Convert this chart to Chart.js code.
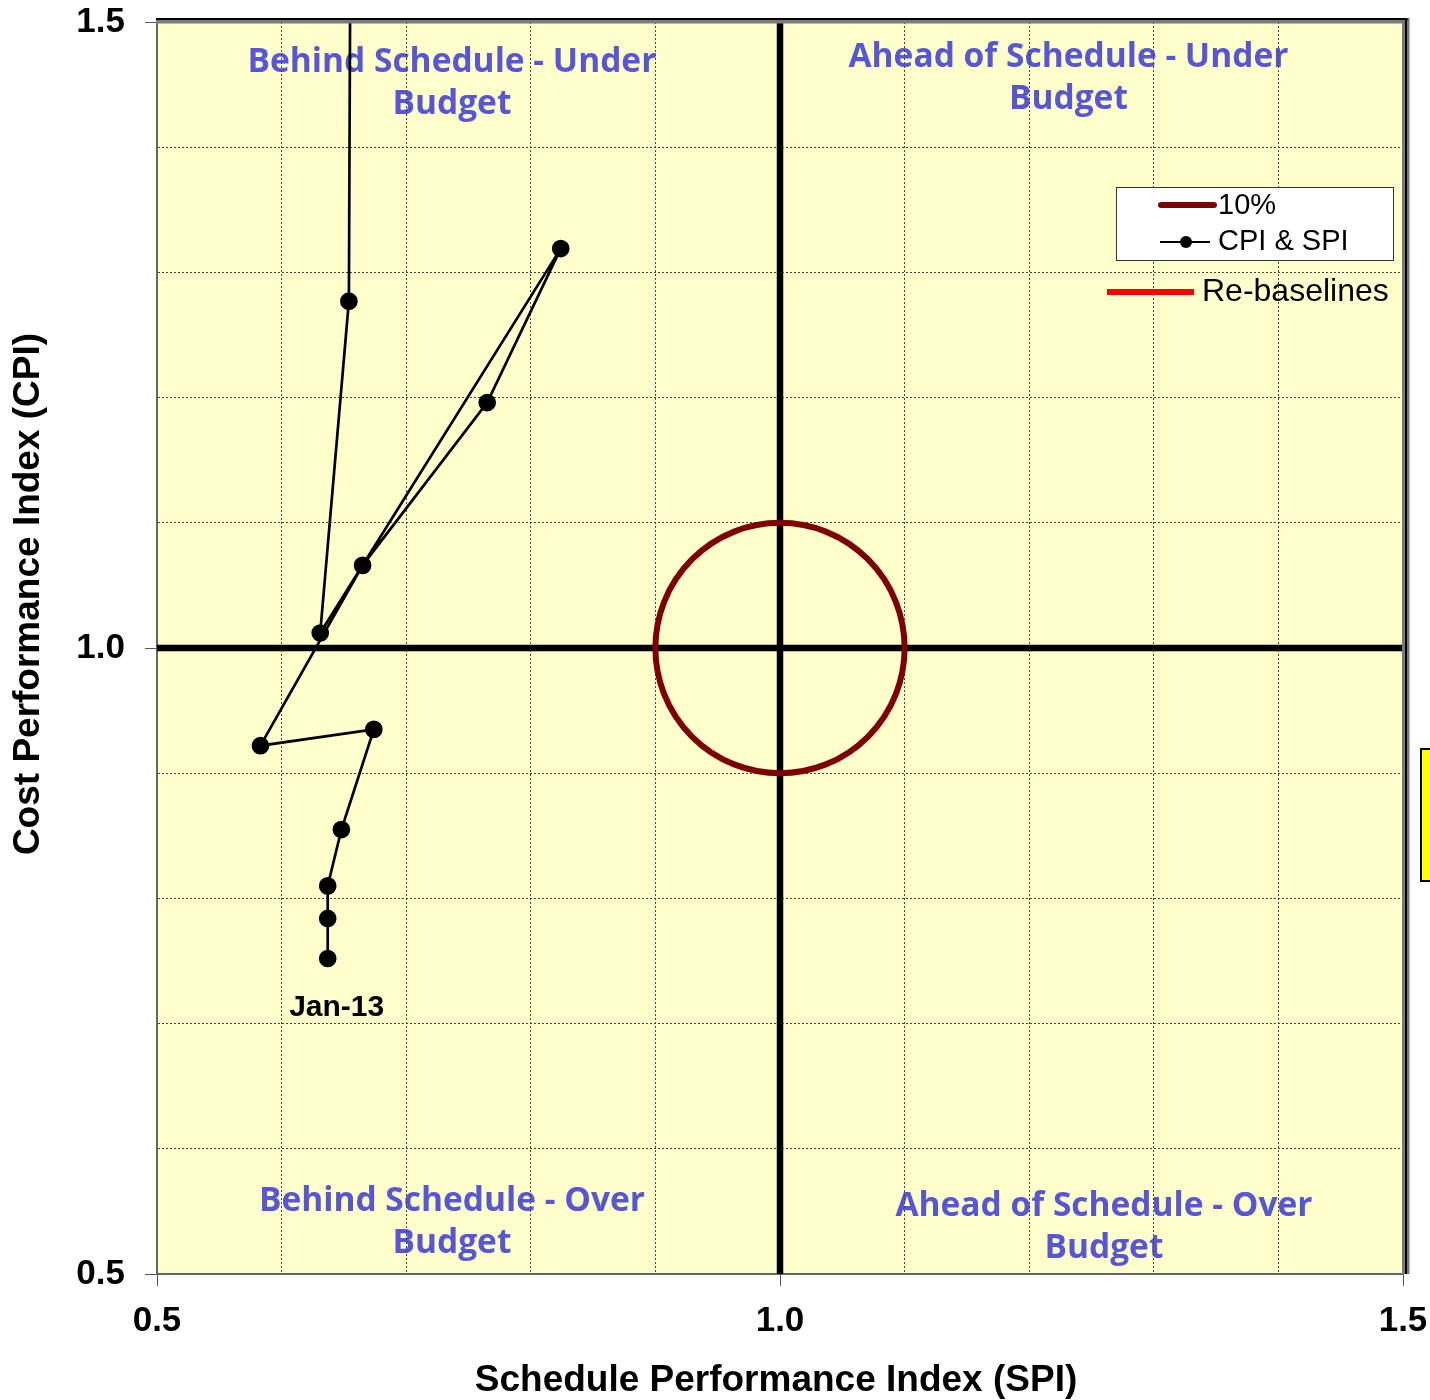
<!DOCTYPE html>
<html>
<head>
<meta charset="utf-8">
<script src="https://cdn.jsdelivr.net/npm/chart.js@4.4.1/dist/chart.umd.min.js"></script>
<style>
  html, body { margin: 0; padding: 0; background: #fff; }
  #wrap { width: 1430px; height: 1400px; position: relative; }
</style>
</head>
<body>
<div id="wrap"><canvas id="myChart" width="1430" height="1400"></canvas></div>
<script>
// CPI & SPI monthly points (first = Jan-13)
const spi = [0.637, 0.637, 0.637, 0.648, 0.674, 0.583, 0.665, 0.765, 0.824, 0.631, 0.654, 0.657];
const cpi = [0.752, 0.784, 0.810, 0.855, 0.935, 0.922, 1.066, 1.196, 1.319, 1.012, 1.277, 2.0];
const firstLabel = "Jan-13";

// axis ticks
const axisMin = 0.5;
const axisMax = 1.5;
const gridStep = 0.1;
const labelledTicks = [0.5, 1.0, 1.5];
const tickLabels = ["0.5", "1.0", "1.5"];

// 10% circle round target
const target = { spi: 1.0, cpi: 1.0 };
const tolerance = 0.1;

const quadrantText = [
  { lines: ["Behind Schedule - Under", "Budget"], x: 0.7367, y: 1.468 },
  { lines: ["Ahead of Schedule - Under", "Budget"], x: 1.2315, y: 1.472 },
  { lines: ["Behind Schedule - Over", "Budget"], x: 0.7367, y: 0.558 },
  { lines: ["Ahead of Schedule - Over", "Budget"], x: 1.2600, y: 0.554 }
];

const points = spi.map((s, i) => ({ x: s, y: cpi[i] }));

function tickText(v) {
  const i = labelledTicks.findIndex(t => Math.abs(t - v) < 1e-6);
  return i >= 0 ? tickLabels[i] : "";
}

const chartPlugin = {
  id: "evmDecor",
  beforeDraw(chart) {
    const { ctx, chartArea: a, scales } = chart;
    ctx.save();
    ctx.fillStyle = "#FFFFCC";
    ctx.fillRect(a.left, a.top, a.right - a.left, a.bottom - a.top);
    // quadrant captions
    ctx.fillStyle = "#5656D6";
    ctx.font = "bold 33.5px 'Open Sans'";
    ctx.textAlign = "center";
    ctx.textBaseline = "middle";
    quadrantText.forEach(q => {
      const px = scales.x.getPixelForValue(q.x);
      const py = scales.y.getPixelForValue(q.y);
      q.lines.forEach((t, i) => ctx.fillText(t, px, py + i * 42));
    });
    ctx.restore();
  },
  beforeDatasetsDraw(chart) {
    const { ctx, chartArea: a, scales } = chart;
    const cx = scales.x.getPixelForValue(target.spi);
    const cy = scales.y.getPixelForValue(target.cpi);
    ctx.save();
    ctx.strokeStyle = "#000";
    ctx.lineWidth = 6.5;
    ctx.beginPath();
    ctx.moveTo(cx, a.top); ctx.lineTo(cx, a.bottom);
    ctx.moveTo(a.left, cy); ctx.lineTo(a.right, cy);
    ctx.stroke();
    const rx = scales.x.getPixelForValue(target.spi + tolerance) - cx;
    const ry = cy - scales.y.getPixelForValue(target.cpi + tolerance);
    ctx.strokeStyle = "#7F0000";
    ctx.lineWidth = 6;
    ctx.beginPath();
    ctx.ellipse(cx, cy, rx, ry, 0, 0, Math.PI * 2);
    ctx.stroke();
    ctx.restore();
  },
  afterDraw(chart) {
    const { ctx, chartArea: a, scales } = chart;
    ctx.save();
    // top and right frame
    ctx.fillStyle = "#000";
    ctx.fillRect(a.left - 1, a.top - 4, a.right - a.left + 6, 2.5);
    ctx.fillStyle = "#7a7a7a";
    ctx.fillRect(a.left - 1, a.top - 1.5, a.right - a.left + 4, 3);
    ctx.fillStyle = "#7a7a7a";
    ctx.fillRect(a.right - 1, a.top - 2, 3, a.bottom - a.top + 2);
    ctx.fillStyle = "#000";
    ctx.fillRect(a.right + 2, a.top - 4, 2.5, a.bottom - a.top + 4);
    ctx.fillStyle = "#7a7a7a";
    ctx.fillRect(a.right + 4.5, a.top - 4, 2, a.bottom - a.top + 4);

    // first point label
    ctx.fillStyle = "#000";
    ctx.font = "bold 30px 'Liberation Sans'";
    ctx.textAlign = "center";
    ctx.textBaseline = "middle";
    ctx.fillText(firstLabel, scales.x.getPixelForValue(spi[0]) + 9, scales.y.getPixelForValue(cpi[0]) + 49);

    // axis titles
    ctx.font = "bold 37px 'Liberation Sans'";
    ctx.fillText("Schedule Performance Index (SPI)", 776, 1381);
    ctx.save();
    ctx.translate(29, 594);
    ctx.rotate(-Math.PI / 2);
    ctx.fillText("Cost Performance Index (CPI)", 0, 0);
    ctx.restore();

    // legend box
    ctx.fillStyle = "#fff";
    ctx.fillRect(1116, 187, 277, 73);
    ctx.strokeStyle = "#333";
    ctx.lineWidth = 1;
    ctx.strokeRect(1116.5, 187.5, 277, 73);
    ctx.lineCap = "round";
    ctx.strokeStyle = "#7F0000";
    ctx.lineWidth = 6;
    ctx.beginPath(); ctx.moveTo(1161, 205); ctx.lineTo(1214, 205); ctx.stroke();
    ctx.lineCap = "butt";
    ctx.strokeStyle = "#000";
    ctx.lineWidth = 2;
    ctx.beginPath(); ctx.moveTo(1160, 242); ctx.lineTo(1210, 242); ctx.stroke();
    ctx.fillStyle = "#000";
    ctx.beginPath(); ctx.arc(1186, 242, 6, 0, Math.PI * 2); ctx.fill();
    ctx.font = "29px 'Liberation Sans'";
    ctx.textAlign = "left";
    ctx.fillText("10%", 1218, 206);
    ctx.fillText("CPI & SPI", 1218, 242);
    ctx.fillStyle = "#FF0000";
    ctx.fillRect(1107, 289, 87, 6);
    ctx.fillStyle = "#000";
    ctx.font = "32px 'Liberation Sans'";
    ctx.fillText("Re-baselines", 1202, 292);

    // clipped note box at right edge
    ctx.fillStyle = "#FFFF00";
    ctx.fillRect(1421, 749, 20, 132);
    ctx.strokeStyle = "#000";
    ctx.lineWidth = 2;
    ctx.strokeRect(1421, 749, 20, 132);
    ctx.restore();
  }
};

const ctx = document.getElementById("myChart");
new Chart(ctx, {
  type: "scatter",
  data: {
    datasets: [{
      label: "CPI & SPI",
      data: points,
      showLine: true,
      borderColor: "#000",
      borderWidth: 2.7,
      backgroundColor: "#000",
      pointRadius: 7.5,
      pointHoverRadius: 7.5,
      clip: 0
    }]
  },
  options: {
    responsive: false,
    animation: false,
    events: [],
    layout: { padding: { top: 22, right: 27, left: 0, bottom: 0 } },
    plugins: { legend: { display: false }, tooltip: { enabled: false } },
    scales: {
      x: {
        type: "linear",
        min: axisMin, max: axisMax,
        afterFit: s => { s.height = 126; s.paddingLeft = 0; s.paddingRight = 0; },
        ticks: {
          stepSize: gridStep, autoSkip: false, maxRotation: 0, padding: 14,
          color: "#000", font: { family: "Liberation Sans", size: 35, weight: "bold" },
          callback: v => tickText(v)
        },
        grid: {
          color: "#444", lineWidth: 1, tickLength: 12,
          tickColor: c => tickText(c.tick.value) ? "#555" : "rgba(0,0,0,0)"
        },
        border: { color: "#666", width: 2, dash: [2, 2] }
      },
      y: {
        type: "linear",
        min: axisMin, max: axisMax,
        afterFit: s => { s.width = 157; s.paddingTop = 0; s.paddingBottom = 0; },
        ticks: {
          stepSize: gridStep, autoSkip: false, padding: 20,
          color: "#000", font: { family: "Liberation Sans", size: 35, weight: "bold" },
          callback: v => tickText(v)
        },
        grid: {
          color: "#444", lineWidth: 1, tickLength: 12,
          tickColor: c => tickText(c.tick.value) ? "#555" : "rgba(0,0,0,0)"
        },
        border: { color: "#666", width: 2, dash: [2, 2] }
      }
    }
  },
  plugins: [chartPlugin]
});
</script>
</body>
</html>
